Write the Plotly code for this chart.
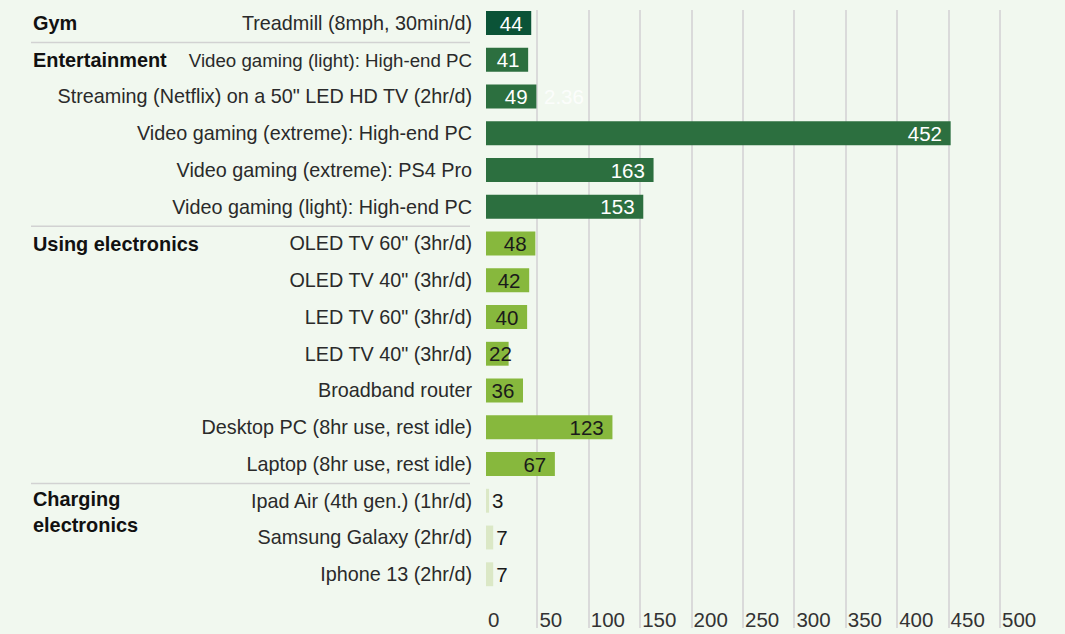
import plotly.graph_objects as go

labels = [
    "Treadmill (8mph, 30min/d)",
    "Video gaming (light): High-end PC",
    "Streaming (Netflix) on a 50\" LED HD TV (2hr/d)",
    "Video gaming (extreme): High-end PC",
    "Video gaming (extreme): PS4 Pro",
    "Video gaming (light): High-end PC",
    "OLED TV 60\" (3hr/d)",
    "OLED TV 40\" (3hr/d)",
    "LED TV 60\" (3hr/d)",
    "LED TV 40\" (3hr/d)",
    "Broadband router",
    "Desktop PC (8hr use, rest idle)",
    "Laptop (8hr use, rest idle)",
    "Ipad Air (4th gen.) (1hr/d)",
    "Samsung Galaxy (2hr/d)",
    "Iphone 13 (2hr/d)",
]
values = [44, 41, 49, 452, 163, 153, 48, 42, 40, 22, 36, 123, 67, 3, 7, 7]
groups = ["Gym", "Entertainment", "Entertainment", "Entertainment", "Entertainment", "Entertainment",
          "Using electronics", "Using electronics", "Using electronics", "Using electronics",
          "Using electronics", "Using electronics", "Using electronics",
          "Charging electronics", "Charging electronics", "Charging electronics"]
group_titles = {"Gym": "Gym", "Entertainment": "Entertainment",
                "Using electronics": "Using electronics",
                "Charging electronics": "Charging<br>electronics"}
group_colors = {"Gym": "#0b5337", "Entertainment": "#2c6f3f",
                "Using electronics": "#87b83d", "Charging electronics": "#dbe8c6"}
group_text = {"Gym": "white", "Entertainment": "white",
              "Using electronics": "#1a1a1a", "Charging electronics": "#1a1a1a"}
extra_label = "2.36"
x_ticks = [0, 50, 100, 150, 200, 250, 300, 350, 400, 450, 500]

W, H = 1065, 634
FONT = "Liberation Sans"
NB = "\u00a0"
VAL_SIZE = 20.5
LAB_SIZE = 19.8
TITLE_SIZE = 19.9
TITLE_X = 31
LABEL_END = 471
x0px, x1px = 486, W
ppu = 1.028
row_px, row0_px = 36.75, 23
ytop_px, ybot_px = 10, 628
ypos = list(range(len(labels)))

first_rows = {}
for i, g in enumerate(groups):
    first_rows.setdefault(g, i)

fig = go.Figure()
for i in ypos:
    g = groups[i]
    outside = g == "Charging electronics"
    txt = str(values[i])
    fits = values[i] * ppu > len(txt) * 0.556 * VAL_SIZE + 8
    fig.add_trace(go.Bar(
        y=[i], x=[values[i]], orientation="h",
        marker=dict(color=group_colors[g], line=dict(width=0)),
        width=0.65,
        text=[txt if (outside or not fits) else txt + NB],
        textposition="outside" if outside else "inside",
        insidetextanchor="end" if fits else "start",
        constraintext="none",
        textangle=0,
        cliponaxis=False,
        textfont=dict(color=group_text[g], size=VAL_SIZE, family=FONT),
        showlegend=False, hoverinfo="skip",
    ))

# stray label next to streaming bar
fig.add_annotation(x=values[2], y=2, text=extra_label, showarrow=False, xanchor="left",
                   xshift=6, font=dict(size=VAL_SIZE, color="rgba(255,255,255,0.8)", family=FONT))

# group titles and separators
for g, r in first_rows.items():
    multi = "<br>" in group_titles[g]
    fig.add_annotation(x=TITLE_X / W, xref="paper", y=r, yref="y", text="<b>%s</b>" % group_titles[g],
                       showarrow=False, xanchor="left", yanchor="top" if multi else "middle",
                       yshift=15 if multi else 0, align="left",
                       font=dict(size=TITLE_SIZE, color="#111111", family=FONT))
    fig.add_shape(type="line", xref="paper", yref="y", x0=TITLE_X / W, x1=470 / W,
                  y0=r - 0.47, y1=r - 0.47, line=dict(color="#d2d2d2", width=1.5))

# tick labels; a label that would touch its row's group title is set a little tighter
ticktext = []
for i, lab in enumerate(labels):
    tight = False
    if first_rows.get(groups[i]) == i:
        first_line = group_titles[groups[i]].split("<br>")[0]
        title_end = TITLE_X + len(first_line) * 0.62 * TITLE_SIZE
        label_start = LABEL_END - len(lab) * 0.46 * LAB_SIZE
        tight = label_start - title_end < 15
    ticktext.append('<span style="font-size:18.7px">%s</span>' % lab if tight else lab)

fig.update_xaxes(domain=[x0px / W, 1], range=[0, (x1px - x0px) / ppu],
                 tickvals=x_ticks, ticktext=[str(t) for t in x_ticks],
                 ticklabelposition="inside right", ticklabelstandoff=-9, ticklabelshift=2,
                 showgrid=True, gridcolor="#dadada", gridwidth=1.5,
                 zeroline=False, showline=False, tickfont=dict(size=20.5, color="#333333", family=FONT))
fig.update_yaxes(domain=[1 - ybot_px / H, 1 - ytop_px / H],
                 range=[(ybot_px - row0_px) / row_px, (ytop_px - row0_px) / row_px],
                 tickvals=ypos, ticktext=ticktext, showgrid=False, zeroline=False, showline=False,
                 ticklabelstandoff=13, tickfont=dict(size=LAB_SIZE, color="#2a2a2a", family=FONT))
fig.update_layout(width=W, height=H, margin=dict(l=0, r=0, t=0, b=0), barmode="overlay",
                  paper_bgcolor="#f1f8ef", plot_bgcolor="#f1f8ef",
                  font=dict(family=FONT))
fig.write_html("out.html", config={"displayModeBar": False},
               post_script="document.body.style.margin='0';document.body.style.overflow='hidden';")
